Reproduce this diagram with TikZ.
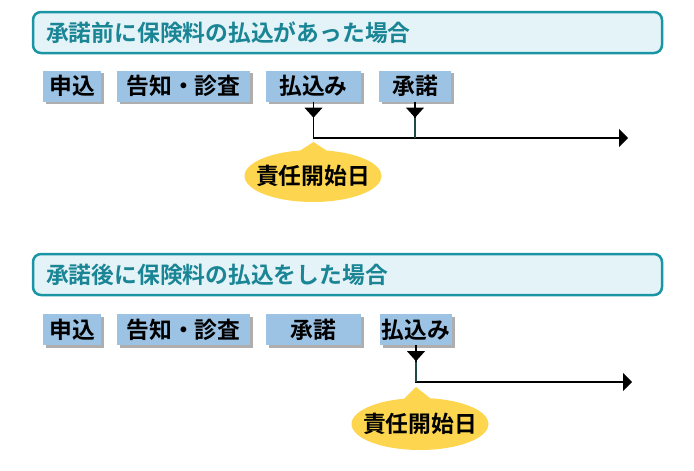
\documentclass[tikz,border=0pt]{standalone}
\usepackage{fontspec}
\newfontfamily\jpfont{Noto Sans CJK JP}[BoldFont={Noto Sans CJK JP Bold}]
\usetikzlibrary{shapes.callouts,shadows,arrows.meta}
\definecolor{tealborder}{HTML}{1A95A5}
\definecolor{tealtext}{HTML}{1A8595}
\definecolor{headfill}{HTML}{E4F3F7}
\definecolor{boxblue}{HTML}{9CC2E4}
\definecolor{calloutyellow}{HTML}{FDD54E}
\definecolor{darkline}{HTML}{1F4A45}
\tikzset{
  header/.style={draw=tealborder, line width=2.5pt, fill=headfill, rounded corners=8pt,
    minimum height=41pt, text width=603pt, inner xsep=13pt, align=left,
    font=\jpfont\bfseries\fontsize{22.8}{25}\selectfont, text=tealtext},
  stagebox/.style={fill=boxblue, minimum height=31pt, inner sep=0pt,
    font=\jpfont\bfseries\fontsize{22.8}{25}\selectfont,
    drop shadow={shadow xshift=2.5pt, shadow yshift=-2.5pt, opacity=0.45, fill=black!70}},
  marker/.style={fill=black},
  timeline/.style={line width=1.6pt, -{Triangle[length=9pt,width=18pt]}},
  tick/.style={line width=1.6pt},
  startday/.style={ellipse callout, fill=calloutyellow, minimum width=137pt, minimum height=52pt,
    inner sep=0pt, callout pointer arc=22,
    font=\jpfont\bfseries\fontsize{22.8}{25}\selectfont}
}
\newcommand{\zw}[1]{\makebox[0pt]{#1}}
\begin{document}
\begin{tikzpicture}[x=1pt,y=-1pt]
\useasboundingbox (0,0) rectangle (694,471);
% ---------- case 1 ----------
\node[header, minimum width=629pt] (h1) at (347.5,32.5) {承諾前に保険料の払込があった場合};
\node[stagebox, minimum width=58pt]  (a1) at (72,86) {申込};
\node[stagebox, minimum width=133pt] (b1) at (183.5,86) {告知・診査};
\node[stagebox, minimum width=95pt]  (c1) at (313.5,86) {払込み};
\node[stagebox, minimum width=72pt]  (d1) at (415,86) {承諾};
\coordinate (e1) at (628,138);
\draw[timeline] (c1.south) |- (e1);
\draw[tick] (d1.south) -- (d1.south |- e1);
\draw[darkline, line width=1.6pt] (d1.south |- 0,118) -- (d1.south |- e1);
\fill[marker] ([xshift=-9pt,yshift=-6pt]c1.south) -- ([xshift=9pt,yshift=-6pt]c1.south) -- ([yshift=-16pt]c1.south) -- cycle;
\fill[marker] ([xshift=-9pt,yshift=-6pt]d1.south) -- ([xshift=9pt,yshift=-6pt]d1.south) -- ([yshift=-16pt]d1.south) -- cycle;
\coordinate (p1) at ([yshift=-4pt]c1.south |- e1);
\node[startday, callout absolute pointer=(p1)] (s1) at (313,176) {\zw{責任開始日}};
% ---------- case 2 ----------
\node[header, minimum width=629pt] (h2) at (347.5,274.5) {承諾後に保険料の払込をした場合};
\node[stagebox, minimum width=58pt]  (a2) at (72,329.5) {申込};
\node[stagebox, minimum width=133pt] (b2) at (183.5,329.5) {告知・診査};
\node[stagebox, minimum width=95pt]  (c2) at (313.5,329.5) {承諾};
\node[stagebox, minimum width=72pt]  (d2) at (416,329.5) {払込み};
\coordinate (e2) at (632,382);
\draw[timeline] (d2.south) |- (e2);
\draw[darkline, line width=1.6pt] (d2.south |- 0,362) -- (d2.south |- e2);
\fill[marker] ([xshift=-9pt,yshift=-6pt]d2.south) -- ([xshift=9pt,yshift=-6pt]d2.south) -- ([yshift=-16pt]d2.south) -- cycle;
\coordinate (p2) at ([yshift=-5pt]d2.south |- e2);
\node[startday, callout absolute pointer=(p2)] (s2) at (420,424) {\zw{責任開始日}};
\end{tikzpicture}
\end{document}
